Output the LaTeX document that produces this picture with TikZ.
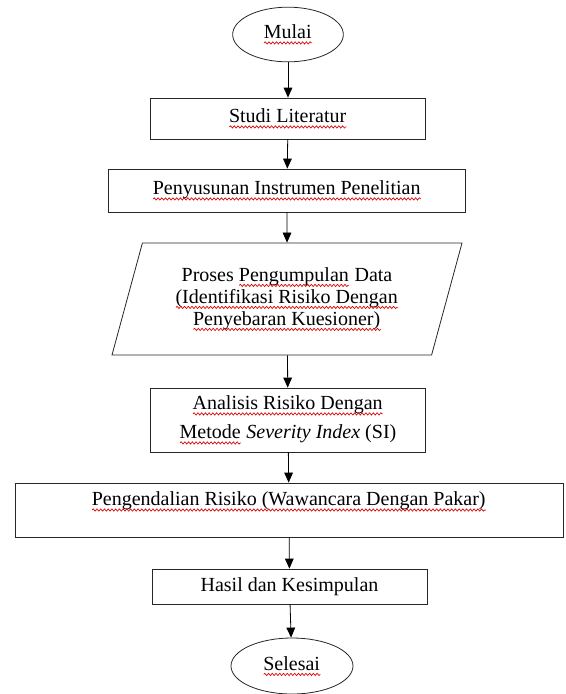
\documentclass[tikz,border=0pt]{standalone}
\usepackage{fontspec}
\setmainfont{Liberation Serif}
\usetikzlibrary{shapes.geometric, arrows.meta, decorations.pathmorphing}
\newsavebox{\typobox}
\newcommand{\typo}[1]{\sbox{\typobox}{#1}\rlap{\usebox{\typobox}}\tikz[baseline=0pt]\draw[red!85!black, line width=0.5pt, decorate, decoration={snake, amplitude=0.85pt, segment length=2.8pt}] (0pt,-3.3pt) -- (\wd\typobox,-3.3pt);}

\begin{document}
\begin{tikzpicture}[x=0.75pt, y=-0.75pt,
    every node/.style={font=\fontsize{15}{17}\selectfont, draw=black!85, line width=0.6pt, inner sep=0pt},
    term/.style={ellipse, minimum width=83pt, minimum height=41pt},
    box/.style={rectangle, align=center, minimum width=206.25pt},
    io/.style={trapezium, trapezium left angle=64.5, trapezium right angle=115.5,
        trapezium stretches body, align=center, minimum width=262.5pt, minimum height=84pt},
    >={Triangle[length=7.5pt, width=6.5pt]}]
    \useasboundingbox (0,0) rectangle (566,694);
    \node[term](mulai)                                      at (288,34.5) {\typo{Mulai}};
    \node[box, minimum height=30.75pt](studi)               at (288,118.5) {\typo{Studi Literatur}};
    \node[box, minimum width=267.75pt, minimum height=32.25pt](susun)
                                                            at (287,190.5) {\typo{Penyusunan Instrumen Penelitian}};
    \node[io, font=\fontsize{15}{16.5}\selectfont](kumpul)  at (287,299)
        {Proses \typo{Pengumpulan} Data\\ \typo{(Identifikasi Risiko Dengan}\\ \typo{Penyebaran Kuesioner)}};
    \node[box, minimum height=48pt, font=\fontsize{15}{21.75}\selectfont](analisis)
                                                            at (288,420) {\typo{Analisis Risiko Dengan}\\ \typo{Metode} \textit{Severity Index} (SI)};
    \node[box, minimum width=411pt, minimum height=40.5pt](kendali)
                                                            at (289,510) {\typo{Pengendalian Risiko (Wawancara Dengan Pakar)}\\ ~};
    \node[box, minimum height=26.25pt](hasil)               at (289.5,586.5) {Hasil dan Kesimpulan};
    \node[term, minimum width=91.5pt, minimum height=42pt](selesai)
                                                            at (292,666) {\typo{Selesai}};
    % Alur
    \path[line width=0.6pt]
        (mulai)
            edge [->] (studi)
        (studi)
            edge [->] (susun)
        (susun)
            edge [->] (kumpul)
        (kumpul)
            edge [->] (analisis)
        (analisis)
            edge [->] (kendali)
        (kendali)
            edge [->] (hasil)
        (hasil)
            edge [->] (selesai)
        ;
\end{tikzpicture}
\end{document}
